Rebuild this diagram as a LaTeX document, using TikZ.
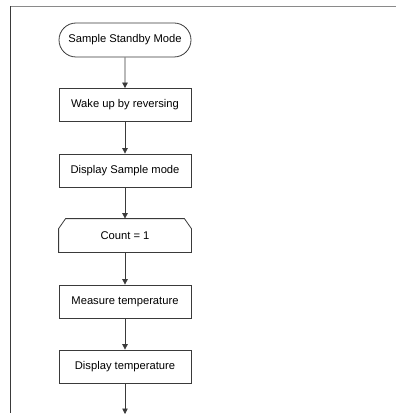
\documentclass[tikz,border=0pt]{standalone}
\usepackage{fontspec}
\setmainfont{Liberation Sans}
\usetikzlibrary{shapes.misc,arrows.meta,calc}
\definecolor{lineg}{HTML}{3A3A3A}
\definecolor{frameg}{HTML}{8A8A8A}
\tikzset{
  flow/.style={draw=lineg, line width=0.8pt, minimum width=132pt, minimum height=33pt,
    inner sep=0pt, font=\fontsize{11.2}{13}\selectfont, text=black},
  procbox/.style={flow, rectangle},
  termbox/.style={flow, rounded rectangle, minimum height=34pt},
  conn/.style={draw=lineg, line width=0.8pt, -{Triangle[length=5.5pt,width=5.5pt]}},
}
\begin{document}
\begin{tikzpicture}[x=1pt,y=-1pt]
\useasboundingbox (0,0) rectangle (396,414);
\coordinate (ftr) at (396,6.5);
\coordinate (ftl) at (10,6.5);
\coordinate (fbl) at (10,413);
\draw[frameg, line width=1pt] (ftl) -- (ftr);
\draw[lineg, line width=1pt] (ftl) -- (fbl);
\node[termbox] (s) at (125,40) {Sample Standby Mode};
\node[procbox] (a) at (125,105) {Wake up by reversing};
\node[procbox] (b) at (125,170.5) {Display Sample mode};
\node[procbox, draw=none] (c) at (125,235.5) {Count = 1};
\draw[draw=lineg, line width=0.8pt] (c.south west) -- ($(c.north west)+(0,10)$) -- ($(c.north west)+(7,0)$)
  -- ($(c.north east)+(-7,0)$) -- ($(c.north east)+(0,10)$) -- (c.south east) -- cycle;
\node[procbox] (d) at (125,301.5) {Measure temperature};
\node[procbox] (e) at (125,366.5) {Display temperature};
\coordinate (end) at (125,414);
\draw[conn] (s) -- (a);
\draw[conn] (a) -- (b);
\draw[conn] (b) -- (c);
\draw[conn] (c) -- (d);
\draw[conn] (d) -- (e);
\draw[conn] (e) -- (end);
\end{tikzpicture}
\end{document}
